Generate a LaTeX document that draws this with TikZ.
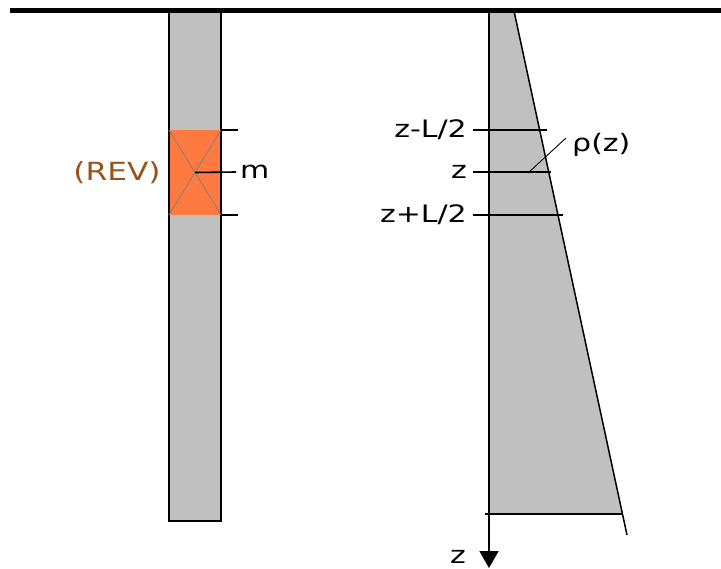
\documentclass[tikz,border=0pt]{standalone}
\usepackage{fontspec}
\setmainfont{DejaVu Sans}
\usetikzlibrary{arrows.meta, positioning, calc}
\definecolor{soilcol}{RGB}{192, 192, 192}
\definecolor{revcol}{RGB}{255, 122, 64}
\definecolor{revtxt}{RGB}{150, 85, 30}
\definecolor{crosscol}{RGB}{125, 125, 125}
\newcommand{\wdtxt}[1]{\scalebox{1.25}[1]{#1}}
\tikzset{
  ground/.style = {draw=black, line width=5pt},
  colm/.style   = {draw=black, line width=1.8pt},
  revbox/.style = {fill=revcol, inner sep=0pt, minimum width=52pt,
                   minimum height=85pt},
  cross/.style  = {draw=crosscol, line width=0.8pt},
  tick/.style   = {draw=black, line width=1.6pt},
  lbl/.style    = {font=\fontsize{24}{27}\selectfont, inner sep=0pt},
  axis/.style   = {draw=black, line width=1.8pt,
                   -{Triangle[length=17pt, width=19pt]}},
  slope/.style  = {draw=black, line width=1.5pt},
  lead/.style   = {draw=black, line width=0.9pt},
}

\begin{document}
\begin{tikzpicture}[x=1pt, y=-1pt]
  \useasboundingbox (0,0) rectangle (721,569);

  %% ---------------- the column with the REV ----------------
  \fill[soilcol] (169,11) rectangle (221,521);
  \node[revbox] (rev) at (195,172.5) {};
  \draw[colm] (169,9) rectangle (221,521);
  \draw[cross] (rev.north west) -- (rev.south east);
  \draw[cross] (rev.south west) -- (rev.north east);
  \coordinate[right=17pt of rev.north east] (revtop);
  \coordinate[right=17pt of rev.south east] (revbot);
  \draw[tick] (rev.north east) -- (revtop);
  \draw[tick] (rev.south east) -- (revbot);
  \node[lbl, anchor=west] (mlbl) at (240,172) {\wdtxt{m}};
  \draw[tick] (rev.center) -- ($(mlbl.west)+(-4,0)$);
  \node[lbl, font=\fontsize{25}{28}\selectfont, text=revtxt,
        left=8pt of rev] (revlbl) {\wdtxt{(REV)}};

  %% ---------------- density against depth ----------------
  \coordinate (stop) at (514,11);
  \coordinate (sbot) at (627,535);
  \fill[soilcol] (489,11) -- (stop) -- (622,514) -- (489,514) -- cycle;
  \draw[slope] (stop) -- (sbot);
  \draw[tick] (485,514) -- (622,514);

  \node[lbl, anchor=east] (zup)   at (467,130) {\wdtxt{z-L/2}};
  \node[lbl, anchor=east] (zmid)  at (467,172) {\wdtxt{z}};
  \node[lbl, anchor=east] (zdown) at (467,215) {\wdtxt{z+L/2}};
  \draw[tick] (473,130) -- (547,130);
  \draw[tick] (473,172) -- (551,172);
  \draw[tick] (473,215) -- (563,215);

  \node[lbl, anchor=west] (rholbl) at (572,145) {\wdtxt{ρ(z)}};
  \coordinate (rhofoot) at (528,173);
  \draw[lead] (rhofoot) -- ($(rholbl.west)+(-6,-7)$);

  \draw[axis] (489,11) -- (489,568);
  \node[lbl, anchor=east] (zaxis) at (466,557) {\wdtxt{z}};

  %% ---------------- ground surface ----------------
  \draw[ground] (10,11) -- (721,11);
\end{tikzpicture}
\end{document}
